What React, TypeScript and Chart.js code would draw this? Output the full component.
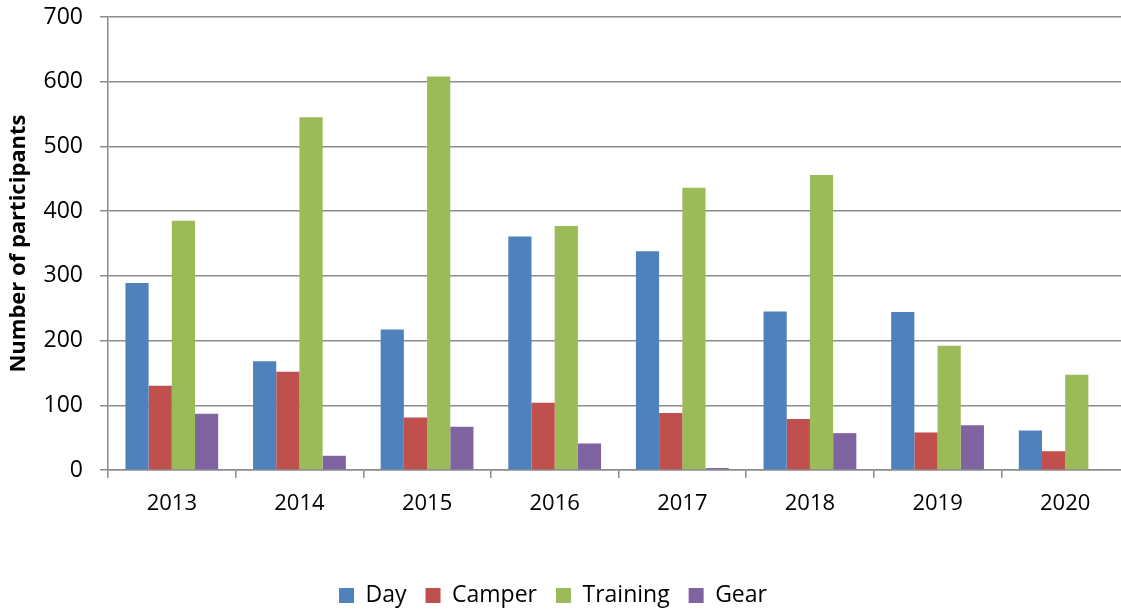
import React, { useEffect, useRef } from "react";
import { Chart, registerables } from "chart.js";

Chart.register(...registerables);

const categories = ["2013", "2014", "2015", "2016", "2017", "2018", "2019", "2020"];
const seriesNames = ["Day", "Camper", "Training", "Gear"];
const dayValues = [289, 168, 217, 361, 338, 245, 244, 61];
const camperValues = [130, 152, 81, 104, 88, 79, 58, 29];
const trainingValues = [385, 545, 608, 377, 436, 456, 192, 147];
const gearValues = [87, 22, 67, 41, 3, 57, 69, 0];
const seriesColors = ["#4F81BD", "#C0504D", "#9BBB59", "#8064A2"];
const yMin = 0;
const yMax = 700;
const yStep = 100;
const yTitle = "Number of participants";

const FONT = "'Open Sans', sans-serif";

const legendShift = {
  id: "legendShift",
  afterLayout(chart: any) {
    const lg = chart.legend;
    if (!lg) return;
    const dx = 553 - (lg.left + lg.right) / 2;
    lg.left += dx;
    lg.right += dx;
    const pad = lg.options.labels.padding;
    const itemH = Math.max(15, 23);
    const desiredTop = 595.5 - pad - itemH / 2;
    const dy = desiredTop - lg.top;
    lg.top += dy;
    lg.bottom += dy;
  },
};

export default function App() {
  const ref = useRef<HTMLCanvasElement | null>(null);

  useEffect(() => {
    if (!ref.current) return;
    const allValues = [dayValues, camperValues, trainingValues, gearValues];
    const chart = new Chart(ref.current, {
      type: "bar",
      data: {
        labels: categories,
        datasets: seriesNames.map((name, i) => ({
          label: name,
          data: allValues[i],
          backgroundColor: seriesColors[i],
          borderWidth: 0,
          categoryPercentage: 0.727,
          barPercentage: 1,
        })),
      },
      options: {
        animation: false,
        responsive: true,
        maintainAspectRatio: false,
        layout: { padding: { top: 17, right: 11, bottom: 0, left: 0 } },
        plugins: {
          tooltip: { enabled: false },
          legend: {
            position: "bottom",
            labels: {
              boxWidth: 15,
              boxHeight: 15,
              padding: 19,
              color: "#000",
              font: { family: FONT, size: 23 },
            },
          },
        },
        scales: {
          x: {
            afterFit: (s: any) => {
              s.height = 89;
              s.paddingLeft = 0;
              s.paddingRight = 0;
            },
            grid: {
              offset: true,
              drawOnChartArea: false,
              drawTicks: true,
              tickLength: 8,
              color: "#8c8c8c",
              lineWidth: 1.5,
            },
            border: { color: "#8c8c8c", width: 1.5 },
            ticks: {
              color: "#000",
              padding: 13,
              font: { family: FONT, size: 22 },
              maxRotation: 0,
            },
          },
          y: {
            min: yMin,
            max: yMax,
            afterFit: (s: any) => {
              s.width = 108;
              s.paddingTop = 0;
              s.paddingBottom = 0;
            },
            ticks: {
              stepSize: yStep,
              color: "#000",
              padding: 17,
              font: { family: FONT, size: 23 },
            },
            grid: {
              color: "#8c8c8c",
              lineWidth: 1.5,
              tickLength: 8,
            },
            border: { color: "#8c8c8c", width: 1.5 },
            title: {
              display: true,
              text: yTitle,
              color: "#000",
              padding: { top: 6, bottom: 0 },
              font: { family: FONT, size: 22, weight: "bold" },
            },
          },
        },
      },
      plugins: [legendShift],
    });
    return () => chart.destroy();
  }, []);

  return (
    <div
      style={{
        position: "fixed",
        left: 0,
        top: 0,
        width: 1121,
        height: 611,
        overflow: "hidden",
        background: "#fff",
      }}
    >
      <div style={{ position: "relative", width: 1140, height: 611 }}>
        <canvas ref={ref} />
      </div>
    </div>
  );
}
